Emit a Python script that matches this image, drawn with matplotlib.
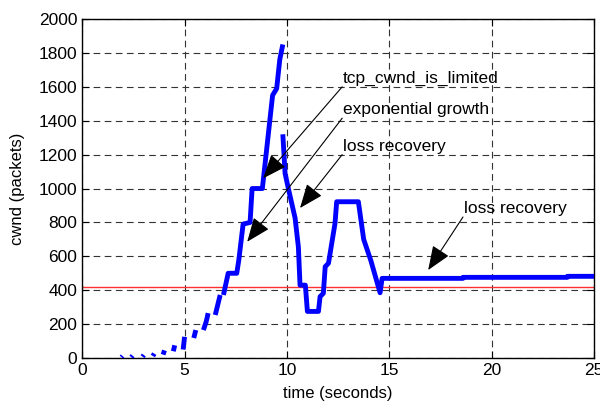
import numpy as np
import matplotlib
matplotlib.use("Agg")
import matplotlib.pyplot as plt

plt.rcParams["font.family"] = ["Liberation Sans", "DejaVu Sans"]

# cwnd trace (NaN separates the gaps in the slow-start part)
nan = np.nan
time_s = [1.92, 1.97, nan, 2.40, 2.46, nan, 2.95, 3.01, nan, 3.45, 3.52, nan,
          3.95, 4.02, nan, 4.45, 4.52, nan, 4.93, 5.00, nan, 5.45, 5.55, nan,
          5.92, 6.05, 6.10, 6.15, nan, 6.50, 6.74, nan,
          6.90, 7.13, 7.55, 7.65, 7.86, 8.20, 8.30, 8.80, 9.30, 9.50, 9.65, 9.80, nan,
          9.80, 9.91, 10.07, 10.40, 10.56, 10.64, 10.90, 11.00, 11.54, 11.62, 11.78,
          11.87, 12.03, 12.35, 12.43, 13.49, 13.75, 14.10, 14.55, 14.65, 18.60,
          18.60, 23.70, 23.70, 25.00]
cwnd = [5, 12, nan, 5, 14, nan, 8, 18, nan, 12, 26, nan,
        20, 45, nan, 40, 75, nan, 50, 125, nan, 118, 165, nan,
        165, 212, 236, 265, nan, 254, 372, nan,
        372, 500, 500, 578, 790, 800, 1000, 1000, 1550, 1590, 1760, 1850, nan,
        1320, 1090, 1000, 825, 655, 430, 430, 275, 275, 362, 382,
        539, 559, 795, 922, 922, 700, 575, 385, 470, 470,
        476, 476, 482, 482]

threshold = 420

# (label, text position, arrow tip)
notes = [
    ("tcp_cwnd_is_limited", (12.7, 1600), (8.84, 1060)),
    ("exponential growth", (12.7, 1415), (8.06, 686)),
    ("loss recovery", (12.7, 1200), (10.64, 885)),
    ("loss recovery", (18.6, 832), (16.9, 519)),
]

fig = plt.figure(figsize=(6, 4.05), dpi=100)
ax = fig.add_axes([0.137, 0.116, 0.853, 0.837])

ax.plot(time_s, cwnd, color="#0000ff", lw=3.5, solid_capstyle="butt", zorder=3)
ax.axhline(threshold, color="#ff3030", lw=1, zorder=2)

for label, xytext, xy in notes:
    ax.annotate("", xy=xy, xytext=xytext,
                arrowprops=dict(arrowstyle="-|>,head_length=1.0,head_width=0.4",
                                color="k", lw=0.8, shrinkA=0, shrinkB=0,
                                mutation_scale=15), zorder=4)
    ax.text(xytext[0] + 0.05, xytext[1] + 5, label, fontsize=12.5,
            ha="left", va="bottom", zorder=4)

ax.set_xlim(0, 25)
ax.set_ylim(0, 2000)
ax.set_xticks(range(0, 26, 5))
ax.set_yticks(range(0, 2001, 200))
ax.grid(True, color="0.2", linestyle=(0, (6, 4)), lw=0.8)
ax.tick_params(direction="in", top=True, right=True, length=5, labelsize=12.5)
for sp in ax.spines.values():
    sp.set_linewidth(1.0)

ax.set_xlabel("time (seconds)", fontsize=12, labelpad=6)
ax.set_ylabel("cwnd (packets)", fontsize=12, labelpad=10)

fig.savefig("out.png", dpi=100)
